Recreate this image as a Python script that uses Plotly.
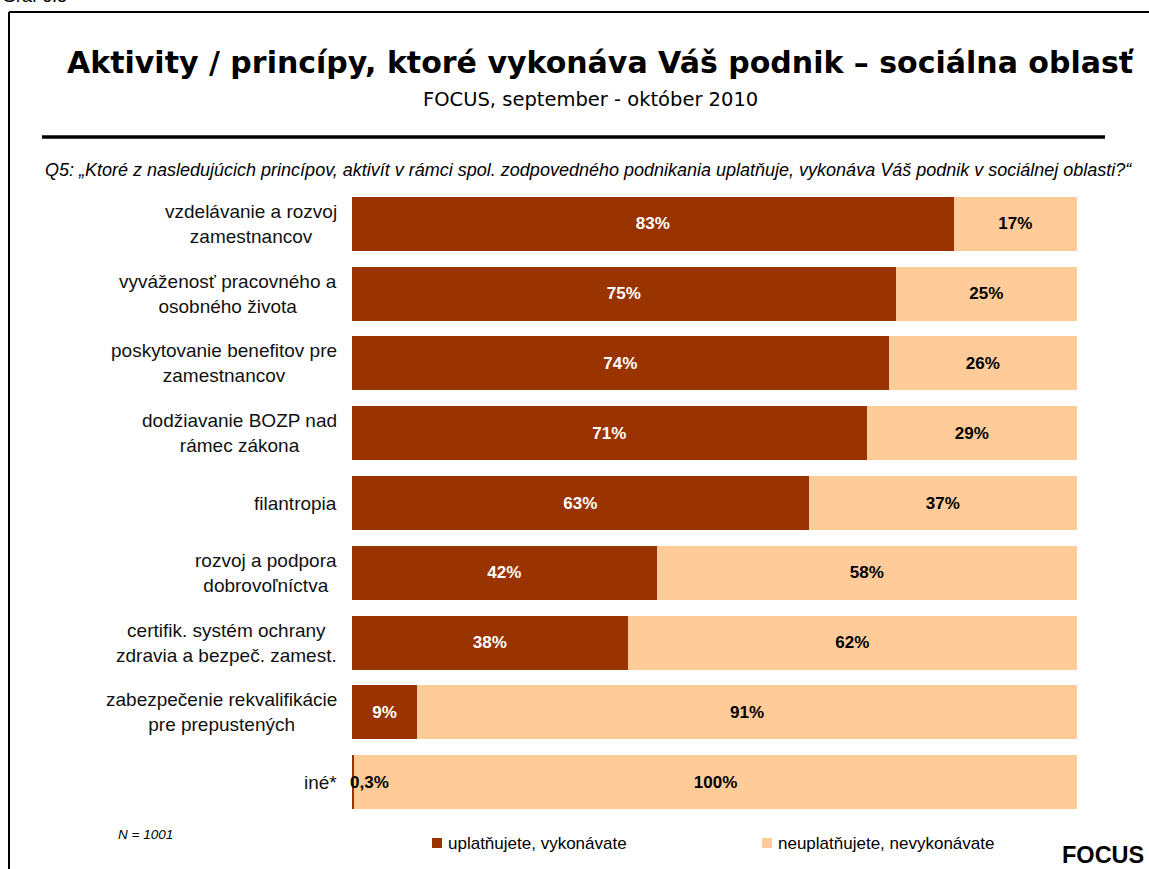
import plotly.graph_objects as go

categories = [
    "vzdelávanie a rozvoj<br>zamestnancov",
    "vyváženosť pracovného a<br>osobného života",
    "poskytovanie benefitov pre<br>zamestnancov",
    "dodžiavanie BOZP nad<br>rámec zákona",
    "filantropia",
    "rozvoj a podpora<br>dobrovoľníctva",
    "certifik. systém ochrany<br>zdravia a bezpeč. zamest.",
    "zabezpečenie rekvalifikácie<br>pre prepustených",
    "iné*",
]
performed = [83, 75, 74, 71, 63, 42, 38, 9, 0.3]
not_performed = [17, 25, 26, 29, 37, 58, 62, 91, 99.7]
series_names = ["uplatňujete, vykonávate", "neuplatňujete, nevykonávate"]
colors = ["#993300", "#FFCC99"]

W, H = 1149, 869
X0, X1, Y0, Y1 = 352, 1077, 189, 817


def px(p):
    return (p - X0) / (X1 - X0)


def py(p):
    return (Y1 - p) / (Y1 - Y0)


def fmt(v):
    if v >= 1:
        return f"{v:.0f}%"
    return f"{v:.1f}%".replace(".", ",")


ARIAL = "Arial, Liberation Sans, sans-serif"
VERD = "Verdana, DejaVu Sans, sans-serif"

dark_text = [fmt(v) if v >= 1 else "" for v in performed]
light_text = [fmt(v) for v in not_performed]

fig = go.Figure()
fig.add_trace(go.Bar(
    y=categories, x=performed, orientation="h", name=series_names[0],
    marker=dict(color=colors[0], line=dict(width=0)),
    text=dark_text, textposition="inside", insidetextanchor="middle",
    textfont=dict(family=ARIAL, size=17, color="white", weight="bold"),
    showlegend=False,
))
fig.add_trace(go.Bar(
    y=categories, x=not_performed, orientation="h", name=series_names[1],
    marker=dict(color=colors[1], line=dict(width=0)),
    text=light_text, textposition="inside", insidetextanchor="middle",
    textfont=dict(family=ARIAL, size=17, color="black", weight="bold"),
    showlegend=False,
))

annotations = []
for c in categories:
    annotations.append(dict(
        x=0, xref="paper", y=c, yref="y", text=c, showarrow=False,
        xanchor="right", yanchor="middle", align="center", xshift=-13,
        font=dict(family=ARIAL, size=19, color="#111111"),
    ))
for c, v in zip(categories, performed):
    if v < 1:
        annotations.append(dict(
            x=v, xref="x", y=c, yref="y", text=fmt(v), showarrow=False,
            xanchor="left", yanchor="middle", xshift=-6,
            font=dict(family=ARIAL, size=17, color="black", weight="bold"),
        ))

annotations += [
    dict(x=px(0), y=py(8), xref="paper", yref="paper", text="Graf 6.5",
         showarrow=False, xanchor="left", yanchor="bottom",
         font=dict(family=ARIAL, size=18, color="black")),
    dict(x=px(601), y=py(62), xref="paper", yref="paper",
         text="<b>Aktivity / princípy, ktoré vykonáva Váš podnik – sociálna oblasť</b>",
         showarrow=False, xanchor="center", yanchor="middle",
         font=dict(family=VERD, size=30, color="black")),
    dict(x=px(590), y=py(100), xref="paper", yref="paper",
         text="FOCUS, september - október 2010",
         showarrow=False, xanchor="center", yanchor="middle",
         font=dict(family=VERD, size=19.5, color="black")),
    dict(x=px(588), y=py(170), xref="paper", yref="paper",
         text="<i>Q5: „Ktoré z nasledujúcich princípov, aktivít v rámci spol. zodpovedného podnikania uplatňuje, vykonáva Váš podnik v sociálnej oblasti?“</i>",
         showarrow=False, xanchor="center", yanchor="middle",
         font=dict(family=ARIAL, size=18, color="black")),
    dict(x=px(116), y=py(834), xref="paper", yref="paper", text="<i>N = 1001</i>",
         showarrow=False, xanchor="left", yanchor="middle",
         font=dict(family=ARIAL, size=13.5, color="black")),
    dict(x=px(446), y=py(843), xref="paper", yref="paper", text=series_names[0],
         showarrow=False, xanchor="left", yanchor="middle",
         font=dict(family=ARIAL, size=17, color="black")),
    dict(x=px(776), y=py(843), xref="paper", yref="paper", text=series_names[1],
         showarrow=False, xanchor="left", yanchor="middle",
         font=dict(family=ARIAL, size=17, color="black")),
    dict(x=px(1146), y=py(855), xref="paper", yref="paper", text="<b>FOCUS</b>",
         showarrow=False, xanchor="right", yanchor="middle",
         font=dict(family=ARIAL, size=23.5, color="black")),
]

shapes = [
    dict(type="line", xref="paper", yref="paper", x0=px(9), x1=px(9), y0=py(12), y1=py(875),
         line=dict(color="black", width=2)),
    dict(type="line", xref="paper", yref="paper", x0=px(9), x1=px(1155), y0=py(12), y1=py(12),
         line=dict(color="black", width=2)),
    dict(type="line", xref="paper", yref="paper", x0=px(42), x1=px(1105), y0=py(137), y1=py(137),
         line=dict(color="black", width=3.5)),
    dict(type="rect", xref="paper", yref="paper", x0=px(432), x1=px(442), y0=py(838), y1=py(848),
         fillcolor=colors[0], line=dict(width=0)),
    dict(type="rect", xref="paper", yref="paper", x0=px(762), x1=px(772), y0=py(838), y1=py(848),
         fillcolor=colors[1], line=dict(width=0)),
]

fig.update_layout(
    width=W, height=H,
    margin=dict(l=X0, r=W - X1, t=Y0, b=H - Y1, pad=0),
    barmode="stack", bargap=0.226,
    paper_bgcolor="white", plot_bgcolor="white",
    xaxis=dict(range=[0, 100], visible=False, fixedrange=True),
    yaxis=dict(autorange="reversed", showticklabels=False, showgrid=False,
               zeroline=False, showline=False, ticks="", fixedrange=True),
    annotations=annotations, shapes=shapes,
    uniformtext=dict(mode=False),
)

fig.write_html(
    "out.html",
    config={"displayModeBar": False},
    post_script="document.body.style.margin='0';document.body.style.overflow='hidden';",
)
